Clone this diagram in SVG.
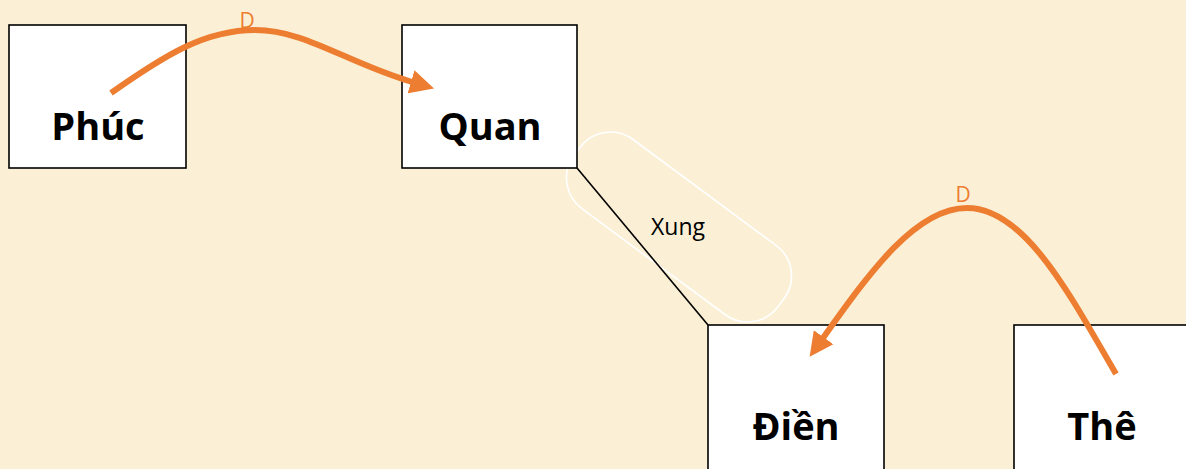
<svg xmlns="http://www.w3.org/2000/svg" width="1186" height="469" viewBox="0 0 1186 469">
  <style>
    .box { fill: #ffffff; stroke: #000000; stroke-width: 1.6; }
    .name { font-family: "Open Sans", "Liberation Sans", sans-serif; font-weight: bold; font-size: 38px; fill: #000000; text-anchor: middle; }
    .rel { fill: none; stroke: #ED7D31; stroke-width: 6; }
    .rel-label { font-family: "Open Sans", "Liberation Sans", sans-serif; font-size: 21px; fill: #ED7D31; text-anchor: middle; }
    .link { stroke: #000000; stroke-width: 1.6; fill: none; }
    .halo { fill: none; stroke: #ffffff; stroke-width: 1.6; }
    .link-label { font-family: "Open Sans", "Liberation Sans", sans-serif; font-size: 23px; fill: #000000; text-anchor: middle; }
  </style>
  <defs>
    <marker id="head" markerUnits="userSpaceOnUse" markerWidth="26" markerHeight="26" refX="1" refY="12" orient="auto" viewBox="0 0 26 24">
      <path d="M0,0 L24,12 L0,24 z" fill="#ED7D31"/>
    </marker>
  </defs>

  <rect width="1186" height="469" fill="#FBF0D6"/>

  <g id="connectors">
    <rect class="halo" x="552" y="184" width="254" height="86" rx="38" ry="38" transform="rotate(36.5 679 227)"/>
    <line class="link" x1="577" y1="168" x2="708" y2="325"/>
    <text class="link-label" x="678" y="235">Xung</text>
  </g>

  <g id="node-phuc">
    <rect class="box" x="9" y="25" width="177" height="143"/>
    <text class="name" x="98" y="140">Phúc</text>
  </g>
  <g id="node-quan">
    <rect class="box" x="402" y="25" width="175" height="143"/>
    <text class="name" x="490" y="140">Quan</text>
  </g>
  <g id="node-dien">
    <rect class="box" x="708" y="325" width="176" height="150"/>
    <text class="name" x="796" y="440">Điền</text>
  </g>
  <g id="node-the">
    <rect class="box" x="1014" y="325" width="180" height="150"/>
    <text class="name" x="1102" y="440">Thê</text>
  </g>

  <g id="relations">
    <path class="rel" d="M111,93 C165,55 205,30 255,30 C305,30 345,62 412,82" marker-end="url(#head)"/>
    <text class="rel-label" x="247" y="28">D</text>
    <path class="rel" d="M1116,374 C1070,295 1025,208 967,208 C915,208 868,275 823,338" marker-end="url(#head)"/>
    <text class="rel-label" x="963" y="202">D</text>
  </g>
</svg>
